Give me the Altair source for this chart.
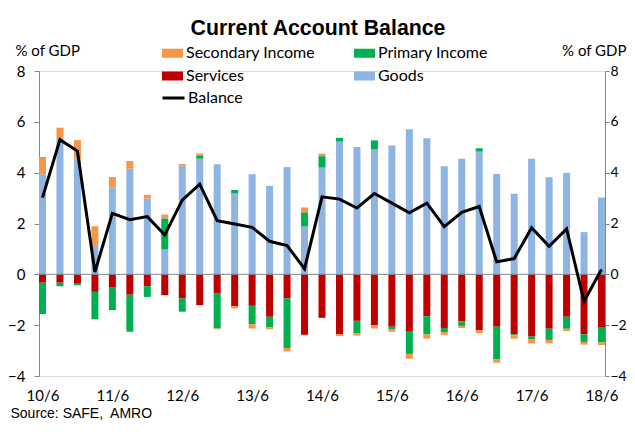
import altair as alt
import pandas as pd

periods = ["10/6", "10/9", "10/12", "11/3", "11/6", "11/9", "11/12", "12/3", "12/6", "12/9",
           "12/12", "13/3", "13/6", "13/9", "13/12", "14/3", "14/6", "14/9", "14/12", "15/3",
           "15/6", "15/9", "15/12", "16/3", "16/6", "16/9", "16/12", "17/3", "17/6", "17/9",
           "17/12", "18/3", "18/6"]
x_labels = ["10/6", "11/6", "12/6", "13/6", "14/6", "15/6", "16/6", "17/6", "18/6"]

goods = [3.94, 5.35, 4.56, 1.16, 3.42, 4.16, 2.99, 0.98, 4.29, 4.55,
         4.33, 3.18, 3.94, 3.48, 4.22, 1.88, 4.20, 5.22, 5.01, 4.92,
         5.07, 5.71, 5.35, 4.25, 4.55, 4.83, 3.95, 3.17, 4.55, 3.82,
         3.99, 1.66, 3.02]
services = [-0.33, -0.33, -0.37, -0.69, -0.50, -0.80, -0.47, -0.82, -0.95, -1.21,
            -0.76, -1.25, -1.24, -1.67, -0.95, -2.38, -1.71, -2.35, -1.83, -2.00,
            -2.06, -2.23, -1.65, -2.11, -1.85, -2.20, -2.06, -2.36, -2.45, -2.14,
            -1.67, -2.36, -2.10]
primary = [-1.23, -0.14, -0.06, -1.08, -0.91, -1.46, -0.42, 1.22, -0.52, 0.13,
           -1.37, 0.14, -0.72, -0.42, -1.95, 0.56, 0.45, 0.15, -0.49, 0.35,
           -0.09, -0.90, -0.71, -0.16, -0.18, 0.13, -1.29, -0.04, -0.10, -0.44,
           -0.47, -0.30, -0.58]
secondary = [0.68, 0.42, 0.72, 0.73, 0.41, 0.30, 0.14, 0.15, 0.05, 0.07,
             -0.03, -0.09, -0.17, -0.07, -0.13, 0.19, 0.10, -0.08, -0.09, -0.13,
             -0.11, -0.19, -0.17, -0.11, -0.08, -0.12, -0.13, -0.13, -0.17, -0.13,
             -0.09, -0.10, -0.10]
balance = [3.02, 5.30, 4.85, 0.09, 2.40, 2.15, 2.27, 1.55, 2.92, 3.55,
           2.11, 1.98, 1.85, 1.30, 1.13, 0.22, 3.05, 2.96, 2.61, 3.18,
           2.80, 2.42, 2.80, 1.88, 2.44, 2.67, 0.49, 0.62, 1.83, 1.10,
           1.79, -1.06, 0.19]

components = ["Goods", "Services", "Primary Income", "Secondary Income"]
series_values = [goods, services, primary, secondary]
legend_order = ["Secondary Income", "Services", "Primary Income", "Goods"]
legend_colors = ["#F79646", "#C00000", "#00B050", "#8DB4E2"]

rows = []
for i, p in enumerate(periods):
    for k, (name, vals) in enumerate(zip(components, series_values)):
        rows.append({"period": p, "component": name, "value": vals[i], "ord": k})
bars_df = pd.DataFrame(rows)
line_df = pd.DataFrame({"period": periods, "balance": balance, "series": ["Balance"] * len(periods)})
zero_df = pd.DataFrame({"y": [0]})

FONT = "Lato"
y_dom = [-4, 8]
y_vals = [-4, -2, 0, 2, 4, 6, 8]

x_enc = alt.X(
    "period:O", sort=periods,
    scale=alt.Scale(type="point", padding=0.2),
    axis=alt.Axis(values=x_labels, labelAngle=0, domain=False, ticks=False,
                  labelPadding=12, labelFont=FONT, labelFontSize=15, labelColor="black",
                  title="Source: SAFE,\u00a0 AMRO", titleFont="Liberation Sans",
                  titleFontSize=14, titleFontWeight="normal", titleColor="black",
                  titleAngle=0, titleAlign="left", titleBaseline="alphabetic",
                  titleX=-29, titleY=41),
)

bars = alt.Chart(bars_df).mark_bar(size=7).encode(
    x=x_enc,
    y=alt.Y("value:Q", stack="zero",
            scale=alt.Scale(domain=y_dom, nice=False, zero=False),
            axis=alt.Axis(orient="left", values=y_vals, grid=False, domainColor="#868686",
                          tickColor="#868686", tickSize=5, labelPadding=9,
                          labelFont=FONT, labelFontSize=15, labelColor="black",
                          title="% of GDP", titleAngle=0, titleAlign="left",
                          titleBaseline="alphabetic", titleX=-24, titleY=-16,
                          titleFont=FONT, titleFontSize=15, titleFontWeight="normal",
                          titleColor="black")),
    color=alt.Color("component:N",
                    scale=alt.Scale(domain=legend_order, range=legend_colors),
                    legend=alt.Legend(title=None, orient="none", legendX=122, legendY=-29.5,
                                      columns=2, columnPadding=37, rowPadding=3,
                                      symbolType="M-1,-0.43H1V0.43H-1Z", symbolSize=441,
                                      labelFont=FONT, labelFontSize=16, labelColor="black",
                                      labelOffset=2, padding=0)),
    order=alt.Order("ord:Q"),
)

zero_rule = alt.Chart(zero_df).mark_rule(color="#868686", strokeWidth=1).encode(
    y=alt.Y("y:Q", scale=alt.Scale(domain=y_dom, nice=False, zero=False), axis=None),
)

line = alt.Chart(line_df).mark_line(strokeWidth=3).encode(
    x=alt.X("period:O", sort=periods),
    y=alt.Y("balance:Q",
            scale=alt.Scale(domain=y_dom, nice=False, zero=False),
            axis=alt.Axis(orient="right", values=y_vals, grid=False, domainColor="#868686",
                          tickColor="#868686", tickSize=4, labelPadding=1,
                          labelFont=FONT, labelFontSize=14, labelColor="black",
                          title="% of GDP", titleAngle=0, titleAlign="right",
                          titleBaseline="alphabetic", titleX=21, titleY=-16,
                          titleFont=FONT, titleFontSize=15, titleFontWeight="normal",
                          titleColor="black")),
    stroke=alt.Stroke("series:N", scale=alt.Scale(domain=["Balance"], range=["black"]),
                      legend=alt.Legend(title=None, orient="none", legendX=122, legendY=14.5,
                                        symbolType="stroke", symbolSize=484,
                                        symbolStrokeWidth=3, labelFont=FONT,
                                        labelFontSize=16, labelColor="black",
                                        labelOffset=2, padding=0)),
)

chart = alt.layer(bars, zero_rule, line).resolve_scale(
    y="independent", color="independent", stroke="independent"
).properties(
    width=566, height=305,
    autosize=alt.AutoSizeParams(type="none"),
    padding={"left": 31, "top": 63, "right": 22, "bottom": 44},
    title=alt.TitleParams("Current Account Balance", font="Liberation Sans", fontSize=21.3,
                          fontWeight="bold", color="black", anchor="middle",
                          frame="group", dx=-4, offset=2),
).configure_view(stroke=None).configure(background="white")

chart.save("out.html", embed_options={"renderer": "svg", "actions": False})
